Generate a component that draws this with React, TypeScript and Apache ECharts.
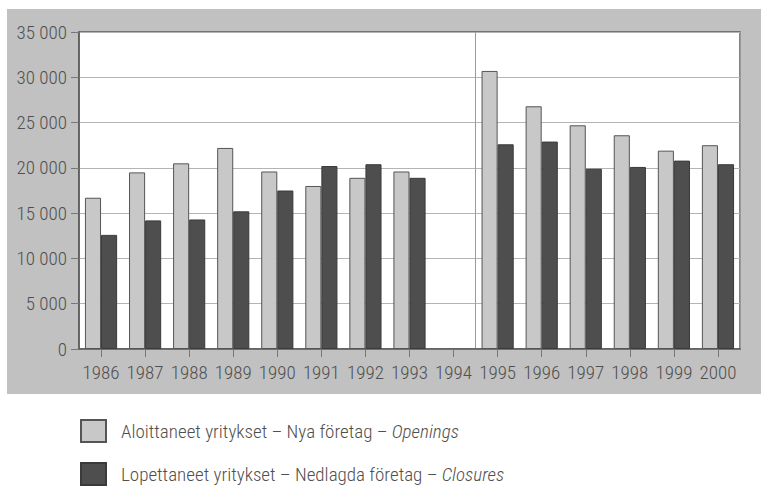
import React, { useEffect, useRef } from "react";
import * as echarts from "echarts";

const years = ["1986","1987","1988","1989","1990","1991","1992","1993","1994","1995","1996","1997","1998","1999","2000"];
const openings = [16700, 19500, 20500, 22200, 19600, 18000, 18900, 19600, null, 30700, 26800, 24700, 23600, 21900, 22500];
const closures = [12600, 14200, 14300, 15200, 17500, 20200, 20400, 18900, null, 22600, 22900, 19900, 20100, 20800, 20400];
const yTicks = { min: 0, max: 35000, interval: 5000 };
const seriesNames = [
  "Aloittaneet yritykset – Nya företag – Openings",
  "Lopettaneet yritykset – Nedlagda företag – Closures",
];
const legendParts: Record<string, [string, string]> = {
  [seriesNames[0]]: ["Aloittaneet yritykset – Nya företag – ", "Openings"],
  [seriesNames[1]]: ["Lopettaneet yritykset – Nedlagda företag – ", "Closures"],
};

const FONT = "'Roboto Condensed', 'Liberation Sans', sans-serif";
const TEXT = "#4f4f4f";
const FS = 19;
const FW = 300;

function legendFor(name: string, top: number) {
  return {
    orient: "vertical",
    left: 80,
    top,
    itemWidth: 25,
    itemHeight: 22,
    icon: "rect",
    padding: 0,
    data: [name],
    formatter: (n: string) => {
      const p = legendParts[n];
      return `{n|${p[0]}}{i|${p[1]}}`;
    },
    textStyle: {
      fontFamily: FONT,
      rich: {
        n: { fontFamily: FONT, fontSize: FS, fontWeight: FW, color: TEXT, padding: [0, 0, 0, 10] },
        i: { fontFamily: FONT, fontSize: FS, fontWeight: FW, color: TEXT, fontStyle: "italic" },
      },
    },
  };
}

export default function App() {
  const ref = useRef<HTMLDivElement>(null);
  useEffect(() => {
    if (!ref.current) return;
    const chart = echarts.init(ref.current, undefined, { renderer: "svg" });
    chart.setOption({
      animation: false,
      backgroundColor: "#ffffff",
      textStyle: { fontFamily: FONT },
      graphic: [
        {
          type: "rect",
          left: 7,
          top: 9,
          z: -100,
          silent: true,
          shape: { width: 754, height: 385 },
          style: { fill: "#c1c1c1" },
        },
      ],
      grid: {
        left: 79,
        right: 21,
        top: 32,
        bottom: 137,
        show: true,
        backgroundColor: "#ffffff",
        borderColor: "#5a5a5a",
        borderWidth: 1.5,
      },
      legend: [legendFor(seriesNames[0], 419), legendFor(seriesNames[1], 462)],
      xAxis: {
        type: "category",
        data: years,
        axisLine: { show: true, lineStyle: { color: "#5a5a5a", width: 1.5 } },
        axisTick: { show: true, alignWithLabel: true, length: 8, lineStyle: { color: "#777" } },
        axisLabel: { interval: 0, fontFamily: FONT, fontSize: FS, fontWeight: FW, color: TEXT, margin: 14 },
        splitLine: {
          show: true,
          interval: (index: number) => index === 0 || index === 9,
          lineStyle: { color: "#9a9a9a", width: 1 },
        },
      },
      yAxis: {
        type: "value",
        min: yTicks.min,
        max: yTicks.max,
        interval: yTicks.interval,
        axisLine: { show: true, lineStyle: { color: "#5a5a5a", width: 1.5 } },
        axisTick: { show: true, length: 8, lineStyle: { color: "#777" } },
        axisLabel: {
          fontFamily: FONT,
          fontSize: FS,
          fontWeight: FW,
          color: TEXT,
          margin: 12,
          formatter: (v: number) => String(v).replace(/\B(?=(\d{3})+(?!\d))/g, " "),
        },
        splitLine: { show: true, lineStyle: { color: "#b4b4b4", width: 1 } },
      },
      series: [
        {
          name: seriesNames[0],
          type: "bar",
          data: openings,
          barGap: "0%",
          barCategoryGap: "27%",
          itemStyle: { color: "#c8c8c8", borderColor: "#555", borderWidth: 1 },
        },
        {
          name: seriesNames[1],
          type: "bar",
          data: closures,
          itemStyle: { color: "#4e4e4e", borderColor: "#3a3a3a", borderWidth: 1 },
        },
      ],
    });
    return () => chart.dispose();
  }, []);
  return (
    <div
      ref={ref}
      style={{ position: "fixed", left: 0, top: 0, width: 761, height: 486 }}
    />
  );
}
